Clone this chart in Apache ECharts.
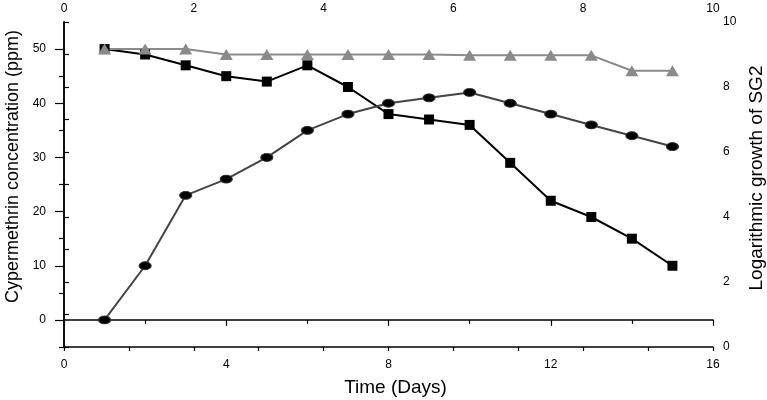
<!DOCTYPE html>
<html><head><meta charset="utf-8">
<script src="https://cdn.jsdelivr.net/npm/echarts@6/dist/echarts.min.js"></script>
<style>html,body{margin:0;padding:0;background:#fff}#c{width:767px;height:400px}</style>
</head><body><div id="c"></div>
<script>
const days = [1,2,3,4,5,6,7,8,9,10,11,12,13,14,15];
const cypermethrin = [50,49,47,45,44,47,43,38,37,36,29,22,19,15,10];
const growthCircles = [0,10,23,26,30,35,38,40,41,42,40,38,36,34,32];
const control = [50,50,50,49,49,49,49,49,49,48.85,48.85,48.85,48.85,46,46];
const leftMajor = [0,10,20,30,40,50];
const leftMinor = [-5,5,15,25,35,45];
const bottomMajor = [0,4,8,12,16];
const bottomMinor = [2,6,10,14];

const pair = arr => days.map((d,i)=>[d,arr[i]]);
const font = 'Liberation Sans, Arial, sans-serif';
const axLine = {show:true, lineStyle:{color:'#000', width:1.5}};
const tickStyle = {color:'#000', width:1.2};
const lbl = {fontFamily:font, fontSize:12, color:'#000'};
const chart = echarts.init(document.getElementById('c'));
chart.setOption({
  animation:false,
  grid:{left:64, right:54, top:22, bottom:53, containLabel:false, outerBoundsMode:'none'},
  xAxis:[
    {type:'value', position:'bottom', min:0, max:16, interval:2,
     name:'Time (Days)', nameLocation:'middle', nameGap:31,
     nameTextStyle:{fontFamily:font, fontSize:19, color:'#000', padding:[0,0,0,14]},
     axisLine:axLine,
     axisTick:{show:true, inside:false, length:6, customValues:bottomMajor, lineStyle:tickStyle},
     axisLabel:Object.assign({margin:12, customValues:bottomMajor}, lbl),
     splitLine:{show:false}},
    {type:'value', position:'top', min:0, max:10, interval:1,
     axisLine:axLine, axisTick:{show:true, inside:true, length:4, lineStyle:tickStyle},
     axisLabel:Object.assign({margin:7, formatter:v=> v%2===0 ? String(v) : ''}, lbl),
     splitLine:{show:false}},
    {type:'value', position:'bottom', min:0, max:16, interval:2,
     axisLine:{show:false},
     axisTick:{show:true, inside:false, length:4, customValues:bottomMinor, lineStyle:tickStyle},
     axisLabel:{show:false}, splitLine:{show:false}}
  ],
  yAxis:[
    {type:'value', position:'left', min:-5, max:55, interval:5,
     name:'Cypermethrin concentration (ppm)', nameLocation:'middle', nameGap:40, nameRotate:90,
     nameTextStyle:{fontFamily:font, fontSize:18, color:'#000', padding:[0,0,0,36]},
     axisLine:axLine,
     axisTick:{show:true, inside:false, length:9, customValues:leftMajor, lineStyle:tickStyle},
     axisLabel:Object.assign({margin:18, customValues:leftMajor}, lbl),
     splitLine:{show:false}},
    {type:'value', position:'right', min:0, max:10, interval:1,
     name:'Logarithmic growth of SG2', nameLocation:'middle', nameGap:29, nameRotate:90,
     nameTextStyle:{fontFamily:font, fontSize:19, color:'#000', padding:[0,0,0,13]},
     axisLine:axLine, axisTick:{show:true, inside:false, length:5, lineStyle:tickStyle},
     axisLabel:Object.assign({margin:10, formatter:v=> v%2===0 ? String(v) : ''}, lbl),
     splitLine:{show:false}},
    {type:'value', position:'left', min:-5, max:55, interval:5,
     axisLine:{show:false},
     axisTick:{show:true, inside:false, length:5, customValues:leftMinor, lineStyle:tickStyle},
     axisLabel:{show:false}, splitLine:{show:false}}
  ],
  series:[
    {type:'line', xAxisIndex:0, yAxisIndex:0, data:pair(cypermethrin),
     symbol:'rect', symbolSize:10, lineStyle:{color:'#000', width:2},
     itemStyle:{color:'#000'}},
    {type:'line', xAxisIndex:0, yAxisIndex:0, data:pair(growthCircles),
     symbol:'circle', symbolSize:[12,8], lineStyle:{color:'#444', width:2},
     itemStyle:{color:'#000', borderColor:'#333', borderWidth:1}},
    {type:'line', xAxisIndex:0, yAxisIndex:0, data:pair(control),
     symbol:'triangle', symbolSize:[13,11], lineStyle:{color:'#8a8a8a', width:2},
     itemStyle:{color:'#8a8a8a'}}
  ]
});
</script></body></html>
